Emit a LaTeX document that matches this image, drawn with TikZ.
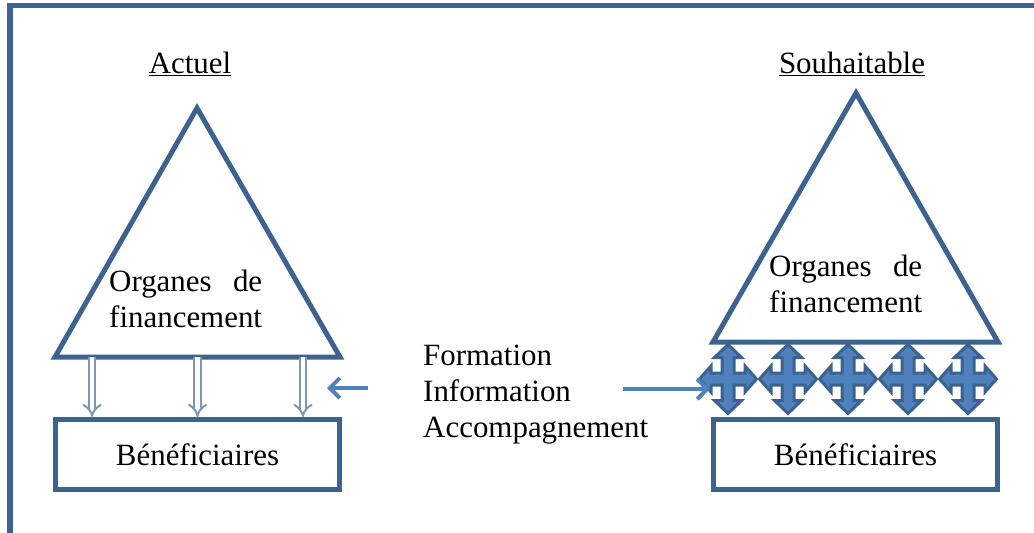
\documentclass[tikz,border=0pt]{standalone}
\usepackage{fontspec}
\setmainfont{Liberation Serif}
\usetikzlibrary{arrows.meta,calc}

\definecolor{edgeblue}{RGB}{60,98,143}
\definecolor{fillblue}{RGB}{79,129,189}
\definecolor{dblblue}{RGB}{125,150,185}

\tikzstyle{border}=[edgeblue,line width=0.1cm]
\tikzstyle{tri}=[edgeblue,line width=0.1cm]
\tikzstyle{benef}=[draw=edgeblue,line width=0.1cm,minimum width=5.68cm,minimum height=1.4cm,inner sep=0pt]
\tikzstyle{flow}=[-{Straight Barb[length=0.2cm,width=0.4cm]},fillblue,line width=0.08cm]
\tikzstyle{dbl}=[-{Implies},double=white,double distance=0.09cm,dblblue,line width=0.04cm]
\tikzstyle{quad}=[fill=fillblue,draw=edgeblue,line width=0.06cm]

\begin{document}
\begin{tikzpicture}[font=\fontsize{17.6}{20.3}\selectfont]

\useasboundingbox (0,0) rectangle (20.68,10.64);

%%% Frame

\draw[border] (21,10.53) -- (0.2,10.53) -- (0.2,-0.5);

%%% Titles

\node[anchor=base] (actuel) at (3.8,9.18) {\underline{Actuel}};
\node[anchor=base] (souhait) at (17.04,9.18) {\underline{Souhaitable}};

%%% Actuel : Triangle

\coordinate (apexA) at (3.94,8.48);
\coordinate (baseAL) at (1.10,3.50);
\coordinate (baseAR) at (6.80,3.50);

\draw[tri] (apexA) -- (baseAR) -- (baseAL) -- cycle;

\node[anchor=base west,align=left] (orgA) at (2.06,4.10)
{\makebox[3.06cm][s]{Organes de}\\financement};

%%% Actuel : Box

\node[benef] (benefA) at (3.95,1.55) {Bénéficiaires};

% Double arrows

\foreach \f in {0.13,0.5,0.87} {
  \coordinate (dA) at ($(baseAL)!\f!(baseAR)$);
  \draw[dbl] (dA) -- (dA |- benefA.north);
}

%%% Middle Text

\node[anchor=base west,align=left] (theme) at (8.34,1.90)
{Formation\\Information\\Accompagnement};

\coordinate (tailA) at (7.36,2.88);
\coordinate (tipA) at (6.54,2.88);
\draw[flow] (tailA) -- (tipA);

%%% Souhaitable : Crosses

\foreach \cx [count=\i] in {14.56,15.76,16.96,18.16,19.36} {
  \coordinate (quad\i) at (\cx,3.06);
  \filldraw[quad,shift={(\cx,3.06)}]
  (0,0.69) -- (0.27,0.43) -- (0.12,0.43) -- (0.12,0.12) -- (0.34,0.12)
  -- (0.34,0.26) -- (0.57,0) -- (0.34,-0.26) -- (0.34,-0.12) -- (0.12,-0.12)
  -- (0.12,-0.43) -- (0.27,-0.43) -- (0,-0.69) -- (-0.27,-0.43) -- (-0.12,-0.43)
  -- (-0.12,-0.12) -- (-0.34,-0.12) -- (-0.34,-0.26) -- (-0.57,0) -- (-0.34,0.26)
  -- (-0.34,0.12) -- (-0.12,0.12) -- (-0.12,0.43) -- (-0.27,0.43) -- cycle;
}

%%% Souhaitable : Triangle

\coordinate (apexB) at (17.12,8.78);
\coordinate (baseBL) at (14.26,3.80);
\coordinate (baseBR) at (19.96,3.80);

\draw[tri] (apexB) -- (baseBR) -- (baseBL) -- cycle;

\node[anchor=base west,align=left] (orgB) at (15.26,4.40)
{\makebox[3.06cm][s]{Organes de}\\financement};

%%% Souhaitable : Box

\node[benef] (benefB) at (17.11,1.55) {Bénéficiaires};

% Arrow to the crosses

\coordinate (tailB) at (12.46,2.86);
\coordinate (tipB) at (14.20,2.86);
\draw[flow] (tailB) -- (tipB);

\end{tikzpicture}
\end{document}
